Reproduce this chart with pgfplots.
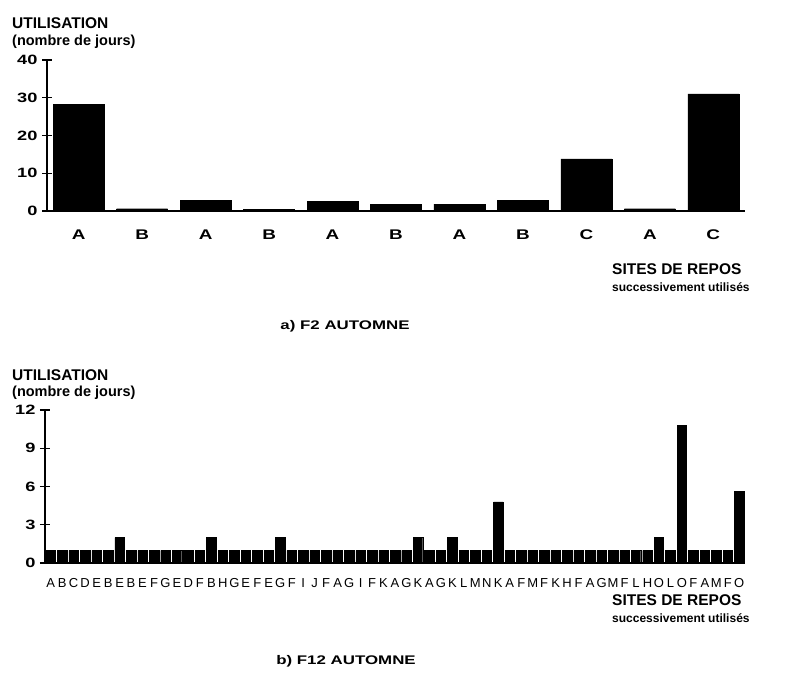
\documentclass[border=0pt]{standalone}
\usepackage{fontspec}
\setmainfont{Liberation Sans}
\newfontfamily\widefont{Liberation Sans}[FakeStretch=1.35]
\usepackage{pgfplots}
\pgfplotsset{compat=1.18}
\begin{document}
\begin{tikzpicture}
\path[use as bounding box] (0,0) rectangle (787pt,-676pt);
\pgfplotsset{
  myaxis/.style={
    scale only axis,
    axis x line=bottom, axis y line=left,
    axis line style={-, line width=1.6pt},
    tick align=center, major tick length=10pt,
    xtick style={draw=none},
    ytick style={line width=1.4pt, black},
    /pgf/number format/assume math mode=true,
    yticklabel style={font=\widefont\bfseries\fontsize{13.5}{13.5}\selectfont, xshift=-1pt},
    ymin=0, clip=false,
  }
}
% ---------------- a) F2 AUTOMNE
\begin{axis}[myaxis,
  at={(47pt,-211pt)}, anchor=south west,
  width=698pt, height=151pt,
  xmin=-0.5, xmax=10.5, ymax=40,
  ytick={0,10,20,30,40},
  xtick={0,...,10},
  xticklabels={A,B,A,B,A,B,A,B,C,A,C},
  xticklabel style={font=\widefont\bfseries\fontsize{14}{14}\selectfont, yshift=-5pt},
  ybar, bar width=51pt,
]
\addplot[fill=black, draw=black] coordinates {
  (0,28.2) (1,0.6) (2,2.8) (3,0.4) (4,2.6) (5,1.7)
  (6,1.8) (7,2.8) (8,13.8) (9,0.6) (10,31)
};
\end{axis}
\node[anchor=base west, font=\bfseries\fontsize{15.5}{15.5}\selectfont, inner sep=0] at (12pt,-29pt) {UTILISATION};
\node[anchor=base west, font=\bfseries\fontsize{14.5}{14.5}\selectfont, inner sep=0] at (12pt,-46pt) {(nombre de jours)};
\node[anchor=base west, font=\bfseries\fontsize{15.5}{15.5}\selectfont, inner sep=0] at (612pt,-275pt) {SITES DE REPOS};
\node[anchor=base west, font=\bfseries\fontsize{12}{12}\selectfont, inner sep=0] at (612pt,-292pt) {successivement utilisés};
\node[anchor=base, font=\widefont\bfseries\fontsize{12.5}{12.5}\selectfont, inner sep=0] at (345pt,-330pt) {a) F2 AUTOMNE};
% ---------------- b) F12 AUTOMNE
\begin{axis}[myaxis,
  at={(45pt,-563pt)}, anchor=south west,
  width=700pt, height=153pt,
  xmin=-0.5, xmax=60.5, ymax=12,
  ytick={0,3,6,9,12},
  xtick={0,...,60},
  xticklabels={A,B,C,D,E,B,E,B,E,F,G,E,D,F,B,H,G,E,F,E,G,F,I,J,F,A,G,I,F,K,A,G,K,A,G,K,L,M,N,K,A,F,M,F,K,H,F,A,G,M,F,L,H,O,L,O,F,A,M,F,O},
  xticklabel style={font=\fontsize{13}{13}\selectfont, yshift=-2pt, inner xsep=0pt},
  ybar, bar width=9.5pt,
]
\addplot[fill=black, draw=black] coordinates {
  (0,1) (1,1) (2,1) (3,1) (4,1) (5,1) (6,2) (7,1) (8,1) (9,1)
  (10,1) (11,1) (12,1) (13,1) (14,2) (15,1) (16,1) (17,1) (18,1) (19,1)
  (20,2) (21,1) (22,1) (23,1) (24,1) (25,1) (26,1) (27,1) (28,1) (29,1)
  (30,1) (31,1) (32,2) (33,1) (34,1) (35,2) (36,1) (37,1) (38,1) (39,4.8)
  (40,1) (41,1) (42,1) (43,1) (44,1) (45,1) (46,1) (47,1) (48,1) (49,1)
  (50,1) (51,1) (52,1) (53,2) (54,1) (55,10.8) (56,1) (57,1) (58,1) (59,1)
  (60,5.6)
};
\end{axis}
\node[anchor=base west, font=\bfseries\fontsize{15.5}{15.5}\selectfont, inner sep=0] at (12pt,-380pt) {UTILISATION};
\node[anchor=base west, font=\bfseries\fontsize{14.5}{14.5}\selectfont, inner sep=0] at (12pt,-396pt) {(nombre de jours)};
\node[anchor=base west, font=\bfseries\fontsize{15.5}{15.5}\selectfont, inner sep=0] at (612pt,-605pt) {SITES DE REPOS};
\node[anchor=base west, font=\bfseries\fontsize{12}{12}\selectfont, inner sep=0] at (612pt,-622pt) {successivement utilisés};
\node[anchor=base, font=\widefont\bfseries\fontsize{12.5}{12.5}\selectfont, inner sep=0] at (346pt,-664pt) {b) F12 AUTOMNE};
\end{tikzpicture}
\end{document}
